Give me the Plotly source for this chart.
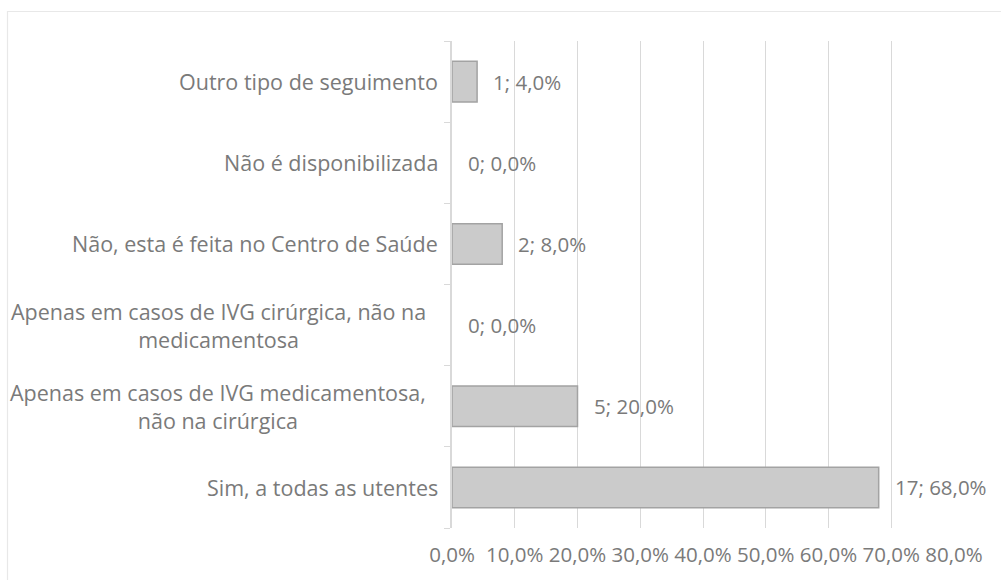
import plotly.graph_objects as go

categories = [
    "Sim, a todas as utentes",
    "Apenas em casos de IVG medicamentosa,<br>não na cirúrgica",
    "Apenas em casos de IVG cirúrgica, não na<br>medicamentosa",
    "Não, esta é feita no Centro de Saúde",
    "Não é disponibilizada",
    "Outro tipo de seguimento",
]
counts = [17, 5, 0, 2, 0, 1]
percents = [68.0, 20.0, 0.0, 8.0, 0.0, 4.0]
x_ticks = [0, 10, 20, 30, 40, 50, 60, 70, 80]
x_ticklabels = ["0,0%", "10,0%", "20,0%", "30,0%", "40,0%", "50,0%", "60,0%", "70,0%", "80,0%"]

FONT = "Open Sans"
TXT = "#7a7a7a"
GRID = "#d9d9d9"

fig = go.Figure()
fig.add_trace(go.Bar(
    y=categories, x=percents, orientation="h",
    marker=dict(color="#cbcbcb",
                line=dict(color="#a3a3a3", width=[1.5 if p > 0 else 0 for p in percents])),
    width=0.5, hoverinfo="skip",
))

annotations = []
for c, n, p in zip(categories, counts, percents):
    label = f"{n}; {p:.1f}%".replace(".", ",")
    annotations.append(dict(
        x=p, y=c, xref="x", yref="y", text=label, showarrow=False,
        xanchor="left", yanchor="middle", xshift=14,
        font=dict(family=FONT, size=20.5, color=TXT),
    ))
    multi = "<br>" in c
    annotations.append(dict(
        x=0, y=c, xref="paper", yref="y", text=c, showarrow=False,
        xanchor="right", yanchor="middle", align="center",
        xshift=-24 if multi else -12,
        font=dict(family=FONT, size=21.5, color=TXT),
    ))

fig.update_layout(
    width=1001, height=580,
    margin=dict(l=452, r=47, t=41, b=52),
    paper_bgcolor="white", plot_bgcolor="white",
    showlegend=False,
    annotations=annotations,
    shapes=[dict(type="rect", xref="paper", yref="paper",
                 x0=(7.5 - 452) / 502, x1=1.2, y0=-0.3, y1=(528 - 11.5) / 487,
                 line=dict(color="#e8e8e8", width=1.2), fillcolor="rgba(0,0,0,0)", layer="below")],
    font=dict(family=FONT, size=20.5, color=TXT),
)
fig.update_xaxes(
    range=[0, 80], tickvals=x_ticks, ticktext=x_ticklabels,
    showgrid=True, gridcolor=GRID, gridwidth=1.3, zeroline=False,
    showline=False, ticks="", ticklabelstandoff=12,
    tickfont=dict(family=FONT, size=20.5, color=TXT), fixedrange=True,
)
fig.update_yaxes(
    type="category", categoryorder="array", categoryarray=categories,
    showticklabels=False, showgrid=False, zeroline=False,
    showline=True, linecolor=GRID, linewidth=1.5,
    ticks="outside", tickson="boundaries", ticklen=6, tickcolor=GRID, tickwidth=1.3,
    fixedrange=True,
)

fig.write_html("out.html", config={"displayModeBar": False},
               post_script="document.body.style.margin='0';")
